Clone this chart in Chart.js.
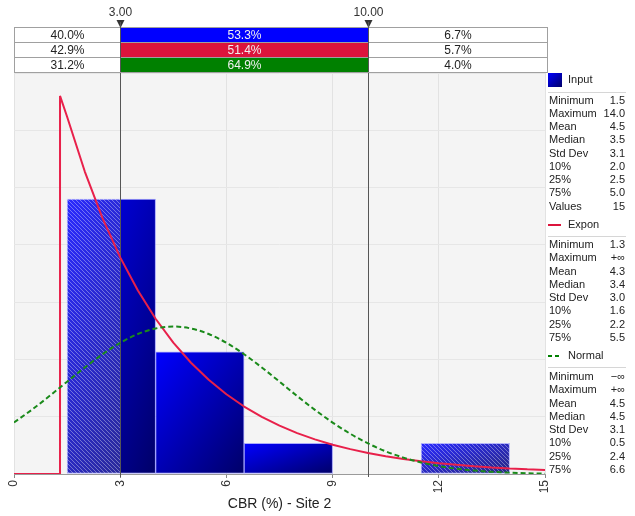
<!DOCTYPE html>
<html lang="en">
<head>
<meta charset="UTF-8">
<title>CBR (%) - Site 2</title>
<script src="https://cdn.jsdelivr.net/npm/chart.js"></script>
<style>
  html, body { margin: 0; padding: 0; background: #fff; }
  #wrap { width: 635px; height: 516px; }
</style>
</head>
<body>
<div id="wrap"><canvas id="fitChart" width="635" height="516"></canvas></div>
<script>
    // Histogram (density per bin, bin width 2.5)
    const binStart = [1.5, 4.0, 6.5, 9.0, 11.5];
    const binWidth = 2.5;
    const binDensity = [0.24, 0.1067, 0.0267, 0, 0.0267];

    // Fitted curves
    const exponX = [0, 1.3, 1.3, 1.5, 2, 2.5, 3, 3.5, 4, 4.5, 5, 5.5, 6, 6.5, 7, 7.5, 8, 8.5, 9, 9.5, 10, 10.5, 11, 11.5, 12, 12.5, 13, 13.5, 14, 14.5, 15];
    const exponY = [0, 0, 0.3300, 0.3118, 0.2640, 0.2234, 0.1891, 0.1601, 0.1355, 0.1147, 0.0971, 0.0822, 0.0696, 0.0589, 0.0499, 0.0422, 0.0357, 0.0302, 0.0256, 0.0217, 0.0183, 0.0155, 0.0131, 0.0111, 0.0094, 0.0080, 0.0067, 0.0057, 0.0048, 0.0041, 0.0035];
    const normalX = [0, 0.5, 1, 1.5, 2, 2.5, 3, 3.5, 4, 4.5, 5, 5.5, 6, 6.5, 7, 7.5, 8, 8.5, 9, 9.5, 10, 10.5, 11, 11.5, 12, 12.5, 13, 13.5, 14, 14.5, 15];
    const normalY = [0.0449, 0.0560, 0.0680, 0.0806, 0.0930, 0.1045, 0.1145, 0.1222, 0.1270, 0.1287, 0.1270, 0.1222, 0.1145, 0.1045, 0.0930, 0.0806, 0.0680, 0.0560, 0.0449, 0.0351, 0.0267, 0.0198, 0.0143, 0.0101, 0.0069, 0.0046, 0.0030, 0.0019, 0.0012, 0.0006, 0.0003];

    // Delimiters and probability table
    const delimiters = [3, 10];
    const delimLabels = ['3.00', '10.00'];
    const leftPct = ['40.0%', '42.9%', '31.2%'];
    const midPct = ['53.3%', '51.4%', '64.9%'];
    const rightPct = ['6.7%', '5.7%', '4.0%'];
    const rowColors = ['#0000ff', '#dc143c', '#008000'];

    // Stats panel
    const statLabels = ['Minimum', 'Maximum', 'Mean', 'Median', 'Std Dev', '10%', '25%', '75%'];
    const inputStats = ['1.5', '14.0', '4.5', '3.5', '3.1', '2.0', '2.5', '5.0'];
    const inputCount = '15';
    const exponStats = ['1.3', '+\u221e', '4.3', '3.4', '3.0', '1.6', '2.2', '5.5'];
    const normalStats = ['\u2212\u221e', '+\u221e', '4.5', '4.5', '3.1', '0.5', '2.4', '6.6'];

    const FONT = '"Liberation Sans", Arial, sans-serif';

    function diagGrad(ctx, l, t, r, b) {
        if (![l, t, r, b].every(Number.isFinite)) return '#0000c0';
        const w = Math.max(r - l, 1), h = Math.max(b - t, 1);
        const ax = 1 / (2 * w), ay = 1 / (2 * h), n = ax * ax + ay * ay;
        const g = ctx.createLinearGradient(l, t, l + ax / n, t + ay / n);
        g.addColorStop(0, '#0000ff');
        g.addColorStop(1, '#000068');
        return g;
    }

    // hatch pattern for bars outside the delimiters
    const pc = document.createElement('canvas');
    pc.width = pc.height = 4;
    const pctx = pc.getContext('2d');
    pctx.strokeStyle = 'rgba(255,255,255,0.35)';
    pctx.lineWidth = 1;
    pctx.beginPath();
    pctx.moveTo(0, 0); pctx.lineTo(4, 4);
    pctx.moveTo(-1, 3); pctx.lineTo(1, 5);
    pctx.moveTo(3, -1); pctx.lineTo(5, 1);
    pctx.stroke();
    const hatch = pctx.createPattern(pc, 'repeat');

    const plotBg = {
        id: 'plotBg',
        beforeDraw(chart) {
            const { ctx, chartArea: a } = chart;
            ctx.save();
            ctx.fillStyle = '#f4f4f4';
            ctx.fillRect(a.left, a.top, a.right - a.left, a.bottom - a.top);
            ctx.restore();
        }
    };

    const hatchAndDelims = {
        id: 'hatchAndDelims',
        afterDatasetDraw(chart, args) {
            if (args.index !== 0) return;
            const ctx = chart.ctx, xs = chart.scales.x, a = chart.chartArea;
            const x1 = xs.getPixelForValue(delimiters[0]);
            const x2 = xs.getPixelForValue(delimiters[1]);
            ctx.save();
            args.meta.data.forEach(bar => {
                const p = bar.getProps(['x', 'y', 'base', 'width'], true);
                if (p.base - p.y < 1) return;
                const l = p.x - p.width / 2, r = p.x + p.width / 2;
                [[l, Math.min(r, x1)], [Math.max(l, x2), r]].forEach(([s, e]) => {
                    if (e <= s) return;
                    ctx.fillStyle = 'rgba(255,255,255,0.16)';
                    ctx.fillRect(s, p.y, e - s, p.base - p.y);
                    ctx.fillStyle = hatch;
                    ctx.fillRect(s, p.y, e - s, p.base - p.y);
                });
            });
            // delimiter lines
            ctx.strokeStyle = '#555';
            ctx.lineWidth = 1;
            [x1, x2].forEach(px => {
                ctx.beginPath();
                ctx.moveTo(Math.round(px) + 0.5, 22);
                ctx.lineTo(Math.round(px) + 0.5, a.bottom + 3);
                ctx.stroke();
            });
            ctx.restore();
        },
        afterDraw(chart) {
            const ctx = chart.ctx, xs = chart.scales.x, a = chart.chartArea;
            const x1 = Math.round(xs.getPixelForValue(delimiters[0])) + 0.5;
            const x2 = Math.round(xs.getPixelForValue(delimiters[1])) + 0.5;
            const L = a.left + 0.5, R = a.right + 2.5;
            const top = 27, rowH = 15;
            ctx.save();
            ctx.font = '12px ' + FONT;
            ctx.textAlign = 'center';
            ctx.textBaseline = 'middle';
            for (let i = 0; i < 3; i++) {
                const y = top + i * rowH;
                ctx.fillStyle = '#fff';
                ctx.fillRect(L, y, x1 - L, rowH);
                ctx.fillRect(x2, y, R - x2, rowH);
                ctx.fillStyle = rowColors[i];
                ctx.fillRect(x1, y, x2 - x1, rowH);
                ctx.strokeStyle = '#a0a0a0';
                ctx.strokeRect(L, y + 0.5, R - L, rowH);
                ctx.beginPath();
                ctx.moveTo(x2, y); ctx.lineTo(x2, y + rowH);
                ctx.stroke();
                ctx.fillStyle = '#222';
                ctx.fillText(leftPct[i], (L + x1) / 2, y + rowH / 2 + 1);
                ctx.fillText(rightPct[i], (x2 + R) / 2, y + rowH / 2 + 1);
                ctx.fillStyle = '#f0f0f0';
                ctx.fillText(midPct[i], (x1 + x2) / 2, y + rowH / 2 + 1);
            }
            // delimiter markers
            ctx.fillStyle = '#333';
            [x1, x2].forEach((px, i) => {
                ctx.beginPath();
                ctx.moveTo(px - 4, 20); ctx.lineTo(px + 4, 20); ctx.lineTo(px, 28);
                ctx.closePath();
                ctx.fill();
                ctx.fillText(delimLabels[i], px, 13);
            });
            ctx.strokeStyle = '#555';
            [x1, x2].forEach(px => {
                ctx.beginPath(); ctx.moveTo(px, 22); ctx.lineTo(px, 72); ctx.stroke();
            });

            // stats panel
            const lx = 549, vx = 625, sepL = 548, sepR = 626;
            const lh = 13.25;
            ctx.font = '11px ' + FONT;
            ctx.textBaseline = 'middle';
            function rows(y0, vals) {
                vals.forEach((v, i) => {
                    ctx.fillStyle = '#222';
                    ctx.textAlign = 'left';
                    ctx.fillText(statLabels[i] || 'Values', lx, y0 + i * lh);
                    ctx.textAlign = 'right';
                    ctx.fillText(v, vx, y0 + i * lh);
                });
            }
            function sep(y) {
                ctx.strokeStyle = '#d6d6d6';
                ctx.beginPath(); ctx.moveTo(sepL, y + 0.5); ctx.lineTo(sepR, y + 0.5); ctx.stroke();
            }
            // Input
            ctx.fillStyle = diagGrad(ctx, 548, 73, 562, 87);
            ctx.fillRect(548, 73, 14, 14);
            ctx.fillStyle = '#222'; ctx.textAlign = 'left';
            ctx.fillText('Input', 568, 80);
            sep(92);
            rows(100.5, inputStats.concat([inputCount]));
            // Expon
            ctx.strokeStyle = '#dc143c'; ctx.lineWidth = 2;
            ctx.beginPath(); ctx.moveTo(548, 225); ctx.lineTo(561, 225); ctx.stroke();
            ctx.lineWidth = 1;
            ctx.fillStyle = '#222'; ctx.textAlign = 'left';
            ctx.fillText('Expon', 568, 225);
            sep(236);
            rows(245, exponStats);
            // Normal
            ctx.strokeStyle = '#008000'; ctx.lineWidth = 2; ctx.setLineDash([4, 3]);
            ctx.beginPath(); ctx.moveTo(548, 356); ctx.lineTo(562, 356); ctx.stroke();
            ctx.setLineDash([]); ctx.lineWidth = 1;
            ctx.fillStyle = '#222'; ctx.textAlign = 'left';
            ctx.fillText('Normal', 568, 356);
            sep(367);
            rows(377, normalStats);
            ctx.restore();
        }
    };

    const fitChart = new Chart(document.getElementById('fitChart'), {
        type: 'bar',
        data: {
            datasets: [{
                type: 'bar',
                label: 'Input',
                order: 3,
                data: binStart.map((s, i) => ({ x: s + binWidth / 2, y: binDensity[i] })),
                barPercentage: 1,
                categoryPercentage: 1,
                borderWidth: 1,
                borderSkipped: false,
                borderColor: 'rgba(120,120,255,0.6)',
                backgroundColor(c) {
                    if (c.type !== 'data') return '#0000c0';
                    const xs = c.chart.scales.x, ys = c.chart.scales.y;
                    if (!xs || !ys) return '#0000c0';
                    const s = binStart[c.dataIndex];
                    return diagGrad(c.chart.ctx,
                        xs.getPixelForValue(s), ys.getPixelForValue(binDensity[c.dataIndex]),
                        xs.getPixelForValue(s + binWidth), ys.getPixelForValue(0));
                }
            }, {
                type: 'line',
                label: 'Expon',
                order: 2,
                data: exponX.map((x, i) => ({ x: x, y: exponY[i] })),
                borderColor: '#e8204a',
                borderWidth: 2,
                borderJoinStyle: 'bevel',
                pointRadius: 0,
                tension: 0,
                fill: false
            }, {
                type: 'line',
                label: 'Normal',
                order: 1,
                data: normalX.map((x, i) => ({ x: x, y: normalY[i] })),
                borderColor: '#1a8a1a',
                borderWidth: 2,
                borderDash: [5, 3],
                pointRadius: 0,
                cubicInterpolationMode: 'monotone',
                fill: false
            }]
        },
        options: {
            responsive: false,
            animation: false,
            layout: { padding: { left: 14, top: 73, right: 90, bottom: 0 } },
            plugins: { legend: { display: false }, tooltip: { enabled: false } },
            scales: {
                x: {
                    type: 'linear',
                    min: 0,
                    max: 15,
                    offset: false,
                    afterFit(s) { s.height = 42; },
                    ticks: {
                        stepSize: 3,
                        minRotation: 90,
                        maxRotation: 90,
                        color: '#333',
                        font: { family: FONT, size: 12 },
                        padding: 2
                    },
                    grid: { offset: false, color: '#e2e2e2', tickLength: 4, tickColor: '#888' },
                    border: { color: '#9a9a9a' },
                    title: {
                        display: true,
                        text: 'CBR (%) - Site 2',
                        color: '#222',
                        font: { family: FONT, size: 14 },
                        padding: { top: 2, bottom: 3 }
                    }
                },
                y: {
                    min: 0,
                    max: 0.35,
                    afterFit(s) { s.width = 0; },
                    ticks: { display: false, stepSize: 0.05 },
                    grid: { color: '#e6e6e6', drawTicks: false },
                    border: { display: false }
                }
            }
        },
        plugins: [plotBg, hatchAndDelims]
    });
</script>
</body>
</html>
